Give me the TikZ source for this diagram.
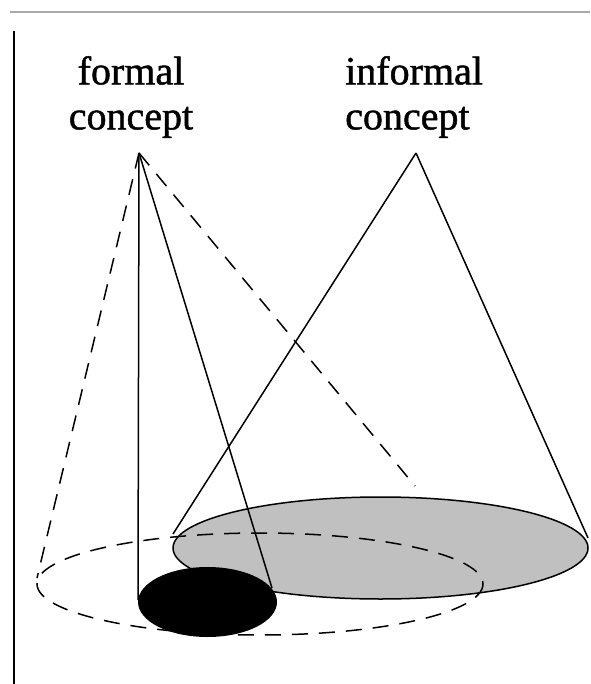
\documentclass[tikz,border=0pt]{standalone}
\usepackage{fontspec}
\setmainfont[FakeBold=1.2]{Liberation Serif}
\definecolor{ellgray}{RGB}{192,192,192}
\definecolor{rulegray}{RGB}{170,170,170}
\tikzset{
  solidline/.style={line width=1.5pt, black},
  dashline/.style={line width=1.5pt, black, dash pattern=on 16pt off 11pt},
  labeltext/.style={font=\fontsize{40}{45}\selectfont, inner sep=0pt, anchor=north},
}
\begin{document}
\begin{tikzpicture}[x=1pt,y=-1pt]
\useasboundingbox (0,0) rectangle (590,684);
% frame lines
\coordinate (ruleL) at (10,12);
\coordinate (ruleR) at (590,12);
\coordinate (barT) at (14,31);
\coordinate (barB) at (14,684);
\draw[rulegray, line width=2pt] (ruleL) -- (ruleR);
\draw[black, line width=2pt] (barT) -- (barB);
% labels
\node[labeltext, align=center] (formal) at (131,56) {formal\\concept};
\node[labeltext, align=left, anchor=north west] (informal) at (345,56) {informal\\concept};
% apices and feet
\coordinate (fa) at (139,153);
\coordinate (ia) at (416,153);
\coordinate (fv) at (138,600);
\coordinate (fr) at (272,588);
\coordinate (fdl) at (37,578);
\coordinate (fdr) at (415,486);
\coordinate (il) at (173,534);
\coordinate (ir) at (588,538);
% informal extension (gray ellipse)
\fill[ellgray] (380.5,548) ellipse [x radius=207.5, y radius=51];
\draw[solidline] (380.5,548) ellipse [x radius=207.5, y radius=51];
% formal extension (dashed ellipse)
\draw[dashline] (260,584) ellipse [x radius=223, y radius=51];
% cone lines
\draw[solidline] (fa) -- (fv);
\draw[solidline] (fa) -- (fr);
\draw[dashline] (fa) -- (fdl);
\draw[dashline] (fa) -- (fdr);
\draw[solidline] (ia) -- (il);
\draw[solidline] (ia) -- (ir);
% instance ellipse
\fill[black] (207.5,602) ellipse [x radius=69.5, y radius=35];
\end{tikzpicture}
\end{document}
